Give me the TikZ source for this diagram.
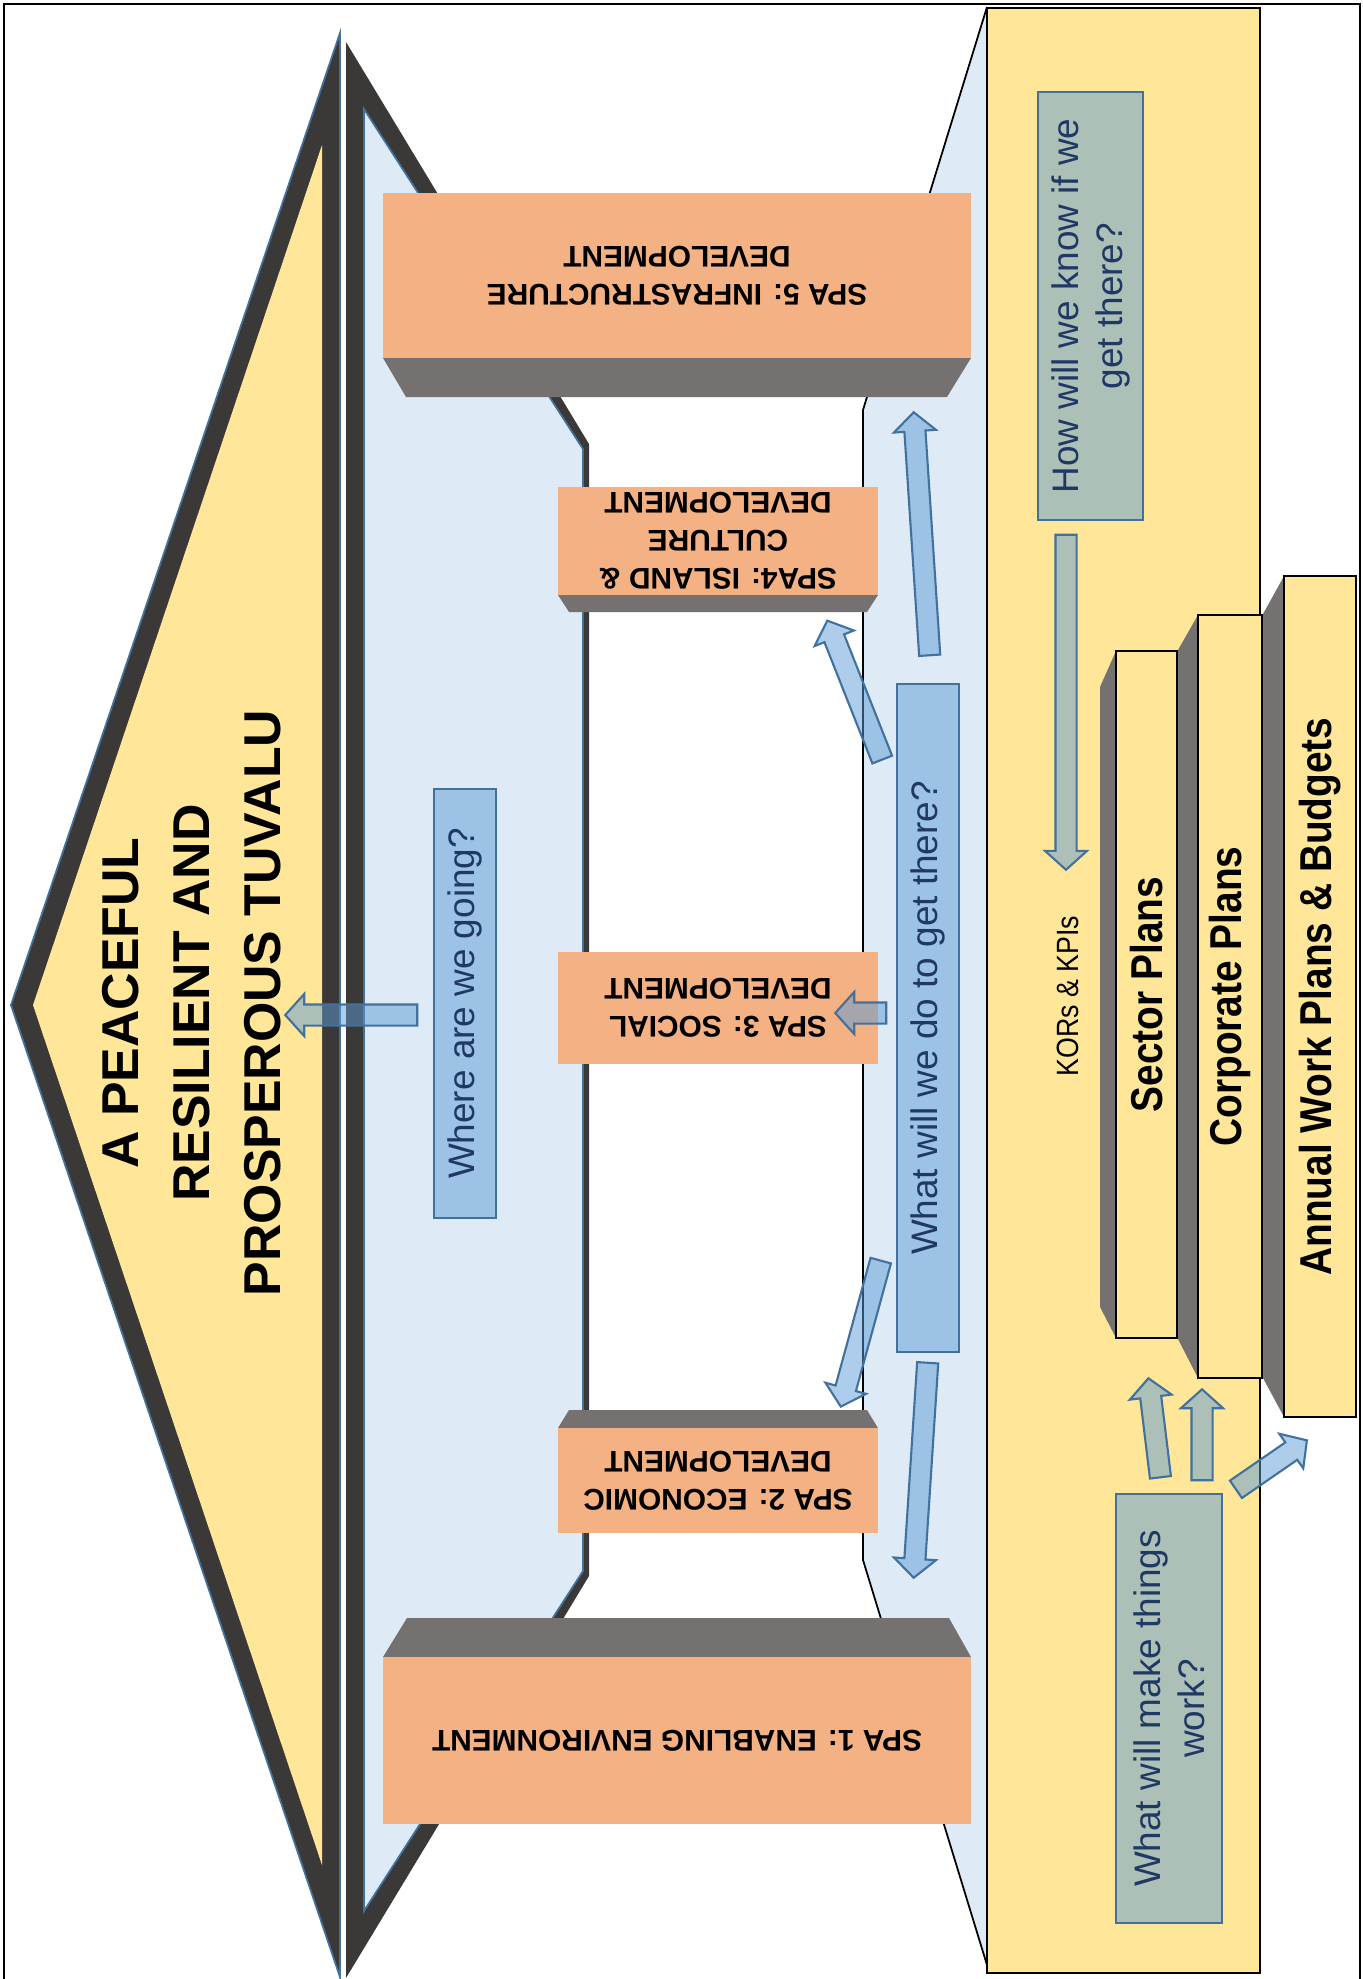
\documentclass[tikz,border=0pt]{standalone}
\usepackage{fontspec}
\setmainfont{Liberation Sans}
\newfontfamily\narrowfont{Liberation Sans}[FakeStretch=0.87]
\usetikzlibrary{shapes.arrows, calc}

\definecolor{goalyellow}{HTML}{FFE699}
\definecolor{spaorange}{HTML}{F4B183}
\definecolor{shelfgray}{HTML}{767171}
\definecolor{rimdark}{HTML}{3B3838}
\definecolor{paleblue}{HTML}{DEEBF7}
\definecolor{boxblue}{HTML}{5B9BD5}
\definecolor{boxline}{HTML}{41719C}
\definecolor{boxtext}{HTML}{1F3864}

\newdimen\unitpx \unitpx=0.02cm

\tikzset{
  qbox/.style={draw=boxline, line width=1.4pt, fill=boxblue, fill opacity=0.5, text opacity=1,
    text=boxtext, font=\fontsize{21}{25}\selectfont, align=center, inner sep=0pt, rotate=90},
  spabox/.style={fill=spaorange, inner sep=0pt, align=center,
    font=\bfseries\fontsize{17}{21.6}\selectfont, rotate=180},
  planbox/.style={draw=black, line width=0.7pt, fill=goalyellow, inner sep=0pt, rotate=90,
    font=\narrowfont\bfseries\fontsize{25.4}{30}\selectfont},
  shelf/.style={fill=shelfgray},
  blockarrow/.style={single arrow, draw=boxline, line width=1.2pt, fill=boxblue, fill opacity=0.5,
    inner xsep=0pt, inner ysep=9.5\unitpx, single arrow head extend=10.5\unitpx,
    single arrow tip angle=96},
}

% fat arrow from one named point to another
\newcommand{\fatarrow}[2]{%
  \path let \p1=(#1), \p2=(#2), \n1={veclen(\x2-\x1,\y2-\y1)}, \n2={atan2(\y2-\y1,\x2-\x1)} in
    node[blockarrow, minimum height=\n1, rotate=\n2] at ($(#1)!0.5!(#2)$) {};}

\begin{document}
\begin{tikzpicture}[x=0.02cm, y=-0.02cm]
  \useasboundingbox (0,0) rectangle (1363,1979);
  \draw[line width=1.2pt] (4,1979) -- (4,4) -- (1360,4) -- (1360,1979);

  % vision triangle
  \filldraw[fill=rimdark, draw=boxline, line width=1pt] (340,33) -- (11,1005) -- (340,1977) -- cycle;
  \fill[goalyellow] (322,145) -- (33,1005) -- (322,1865) -- cycle;
  \node[font=\bfseries\fontsize{29.5}{40.4}\selectfont, align=center, rotate=90] (vision) at (192,1003)
    {A PEACEFUL\\RESILIENT AND\\PROSPEROUS TUVALU};

  % strategy panel
  \fill[rimdark] (346,42) -- (589,444) -- (589,1576) -- (346,1978) -- cycle;
  \filldraw[fill=paleblue, draw=boxline, line width=1pt] (364,109) -- (583,449) -- (583,1571) -- (364,1911) -- cycle;

  % action panel and measure strip
  \filldraw[fill=paleblue, draw=black, line width=1pt] (987,7) -- (863,410) -- (863,1560) -- (987,1965);
  \draw[fill=goalyellow, line width=0.8pt] (987,8) rectangle (1260,1973);

  % SPA boxes
  \fill[shelf] (383,358) -- (971,358) -- (947,397) -- (406,397) -- cycle;
  \node[spabox, minimum width=588\unitpx, minimum height=165\unitpx] (spa5) at (677,275.5)
    {SPA 5: INFRASTRUCTURE\\DEVELOPMENT};
  \fill[shelf] (558,595) -- (878,595) -- (867,612) -- (569,612) -- cycle;
  \node[spabox, minimum width=320\unitpx, minimum height=108\unitpx] (spa4) at (718,541)
    {SPA4: ISLAND \&\\CULTURE\\DEVELOPMENT};
  \node[spabox, minimum width=320\unitpx, minimum height=112\unitpx] (spa3) at (718,1008)
    {SPA 3: SOCIAL\\DEVELOPMENT};
  \fill[shelf] (569,1410) -- (867,1410) -- (878,1428) -- (558,1428) -- cycle;
  \node[spabox, minimum width=320\unitpx, minimum height=105\unitpx] (spa2) at (718,1480.5)
    {SPA 2: ECONOMIC\\DEVELOPMENT};
  \fill[shelf] (407,1618) -- (949,1618) -- (971,1657) -- (383,1657) -- cycle;
  \node[spabox, minimum width=588\unitpx, minimum height=167\unitpx] (spa1) at (677,1740.5)
    {SPA 1: ENABLING ENVIRONMENT};

  % questions
  \node[qbox, minimum width=429\unitpx, minimum height=62\unitpx] (going) at (465,1003.5) {Where are we going?};
  \node[qbox, minimum width=668\unitpx, minimum height=62\unitpx] (doing) at (928,1018) {What will we do to get there?};
  \node[qbox, minimum width=428\unitpx, minimum height=105\unitpx] (knowing) at (1090.5,306) {How will we know if we\\get there?};
  \node[qbox, minimum width=429\unitpx, minimum height=106\unitpx] (working) at (1169,1708.5) {What will make things\\work?};
  \node[font=\narrowfont\fontsize{17.5}{21}\selectfont, rotate=90] (kors) at (1068,996) {KORs \& KPIs};

  % plans stack
  \fill[shelf] (1100,687) -- (1116,651) -- (1116,1338) -- (1100,1307) -- cycle;
  \node[planbox, minimum width=687\unitpx, minimum height=61\unitpx] (sector) at (1146.5,994.5) {Sector Plans};
  \fill[shelf] (1178,650) -- (1198,615) -- (1198,1378) -- (1178,1339) -- cycle;
  \node[planbox, minimum width=763\unitpx, minimum height=64\unitpx] (corporate) at (1230,996.5) {Corporate Plans};
  \fill[shelf] (1263,614) -- (1284,576) -- (1284,1417) -- (1263,1378) -- cycle;
  \node[planbox, minimum width=841\unitpx, minimum height=72\unitpx] (annual) at (1320,996.5) {Annual Work Plans \& Budgets};

  % arrow ends
  \coordinate (going-out) at (422,1015);   \coordinate (vision-in) at (290,1015);
  \coordinate (knowing-out) at (1066,530); \coordinate (kors-in) at (1066,865);
  \coordinate (doing-5) at (930,660);      \coordinate (spa5-in) at (914,417);
  \coordinate (doing-4) at (884,764);      \coordinate (spa4-in) at (829,625);
  \coordinate (doing-3) at (891,1013);     \coordinate (spa3-in) at (840,1013);
  \coordinate (doing-2) at (882,1256);     \coordinate (spa2-in) at (842,1402);
  \coordinate (doing-1) at (928,1358);     \coordinate (spa1-in) at (914,1573);
  \coordinate (working-s) at (1161,1482);  \coordinate (sector-in) at (1149,1383);
  \coordinate (working-c) at (1202,1485);  \coordinate (corporate-in) at (1202,1394);
  \coordinate (working-a) at (1232,1492);  \coordinate (annual-in) at (1303,1443);

  \foreach \a/\b in {going-out/vision-in, knowing-out/kors-in, doing-5/spa5-in, doing-4/spa4-in,
      doing-3/spa3-in, doing-2/spa2-in, doing-1/spa1-in, working-s/sector-in,
      working-c/corporate-in, working-a/annual-in}
    \fatarrow{\a}{\b};
\end{tikzpicture}
\end{document}
